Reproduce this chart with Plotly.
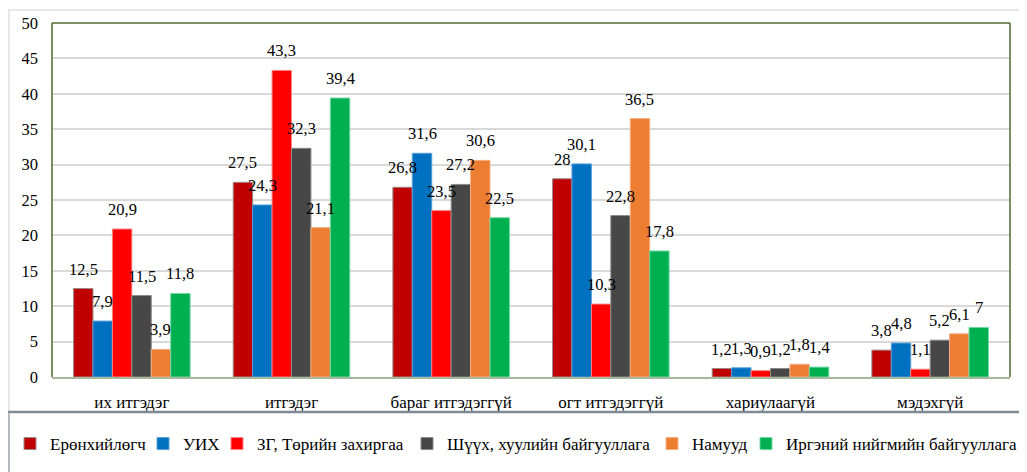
import plotly.graph_objects as go

categories = ["их итгэдэг", "итгэдэг", "бараг итгэдэггүй", "огт итгэдэггүй", "хариулаагүй", "мэдэхгүй"]
series_names = ["Ерөнхийлөгч", "УИХ", "ЗГ, Төрийн захиргаа", "Шүүх, хуулийн байгууллага", "Намууд", "Иргэний нийгмийн байгууллага"]
president = [12.5, 27.5, 26.8, 28, 1.2, 3.8]
parliament = [7.9, 24.3, 31.6, 30.1, 1.3, 4.8]
government = [20.9, 43.3, 23.5, 10.3, 0.9, 1.1]
courts = [11.5, 32.3, 27.2, 22.8, 1.2, 5.2]
parties = [3.9, 21.1, 30.6, 36.5, 1.8, 6.1]
civil = [11.8, 39.4, 22.5, 17.8, 1.4, 7]
y_ticks = [0, 5, 10, 15, 20, 25, 30, 35, 40, 45, 50]

series_values = [president, parliament, government, courts, parties, civil]
colors = ["#C00000", "#0070C0", "#FF0000", "#474747", "#ED7D31", "#00B050"]
edge_colors = ["#9a8a8a", "#5aa0d8", "#ff8080", "#8a8a8a", "#f5b088", "#70d8a0"]

# page has an 8px body margin; figure coordinates are page - 8
OFF = 8
W, H = 1027 - OFF, 472 - OFF
L, R, T, B = 52 - OFF, 17, 23 - OFF, 95
pw, ph = W - L - R, H - T - B
BARGAP = 0.27

def px_x(page_px):
    return (page_px - OFF - L) / pw

def px_y(page_py):
    return (H - B - (page_py - OFF)) / ph

FONT = "Liberation Serif"
n_series = len(series_values)
bar_px = pw / len(categories) * (1 - BARGAP) / n_series

fig = go.Figure()
legend_text_start = [48, 181, 255, 445, 690, 784]
annotations = []
for i, (name, vals) in enumerate(zip(series_names, series_values)):
    lname = "legend" if i == 0 else f"legend{i+1}"
    fig.add_trace(go.Bar(
        x=categories, y=vals, name=name,
        marker=dict(color=colors[i], line=dict(color=edge_colors[i], width=1)),
        legend=lname,
        showlegend=True,
    ))
    shift = (i - (n_series - 1) / 2) * bar_px
    for c, v in zip(categories, vals):
        annotations.append(dict(
            x=c, y=v, xref="x", yref="y", text=f"{v:g}".replace(".", ","),
            showarrow=False, xanchor="center", yanchor="bottom",
            xshift=shift, yshift=8,
            font=dict(family=FONT, size=16.5, color="#000000"),
        ))

layout_legends = {}
for i, ts in enumerate(legend_text_start):
    lname = "legend" if i == 0 else f"legend{i+1}"
    layout_legends[lname] = dict(
        x=px_x(ts - 38), xanchor="left", y=px_y(444), yanchor="middle",
        orientation="h", font=dict(family=FONT, size=17, color="#000000"),
        bgcolor="rgba(0,0,0,0)", itemwidth=30,
    )

shapes = [
    dict(type="line", xref="paper", yref="paper", x0=px_x(8), x1=px_x(1027), y0=px_y(10), y1=px_y(10),
         line=dict(color="#e0e0e0", width=1.5)),
    dict(type="line", xref="paper", yref="paper", x0=px_x(9), x1=px_x(9), y0=px_y(10), y1=px_y(411),
         line=dict(color="#e0e0e0", width=1.5)),
    dict(type="line", xref="paper", yref="paper", x0=px_x(8), x1=px_x(1027), y0=px_y(412), y1=px_y(412),
         line=dict(color="#7f8a96", width=2.5)),
    dict(type="line", xref="paper", yref="paper", x0=px_x(9), x1=px_x(9), y0=px_y(412), y1=px_y(472),
         line=dict(color="#9aa3ad", width=1.5)),
    dict(type="line", xref="paper", yref="paper", x0=px_x(1022), x1=px_x(1022), y0=px_y(412), y1=px_y(472),
         line=dict(color="#9aa3ad", width=1.5)),
    dict(type="line", xref="paper", yref="paper", x0=0, x1=0, y0=0, y1=1, line=dict(color="#4e6b30", width=1.5)),
    dict(type="line", xref="paper", yref="paper", x0=0, x1=1, y0=1, y1=1, line=dict(color="#4e6b30", width=1.5)),
    dict(type="line", xref="paper", yref="paper", x0=1, x1=1, y0=0, y1=1, line=dict(color="#4e6b30", width=1.5)),
]

fig.update_layout(
    width=W, height=H,
    margin=dict(l=L, r=R, t=T, b=B, pad=0, autoexpand=False),
    paper_bgcolor="white", plot_bgcolor="white",
    barmode="group", bargap=BARGAP, bargroupgap=0,
    font=dict(family=FONT, size=16, color="#000000"),
    showlegend=True,
    shapes=shapes,
    annotations=annotations,
    xaxis=dict(
        showline=True, linecolor="#a8b89a", linewidth=1.5,
        ticks="", tickfont=dict(family=FONT, size=17, color="#000000"),
        ticklabelstandoff=9, showgrid=False, fixedrange=True, automargin=False,
    ),
    yaxis=dict(
        range=[0, 50], tickvals=y_ticks, showgrid=True, gridcolor="#d9d9d9", gridwidth=1.5,
        zeroline=False, showline=False, ticks="",
        tickfont=dict(family=FONT, size=16.5, color="#000000"),
        ticklabelstandoff=13, fixedrange=True, automargin=False,
    ),
    **layout_legends,
)

fig.write_html("out.html")
